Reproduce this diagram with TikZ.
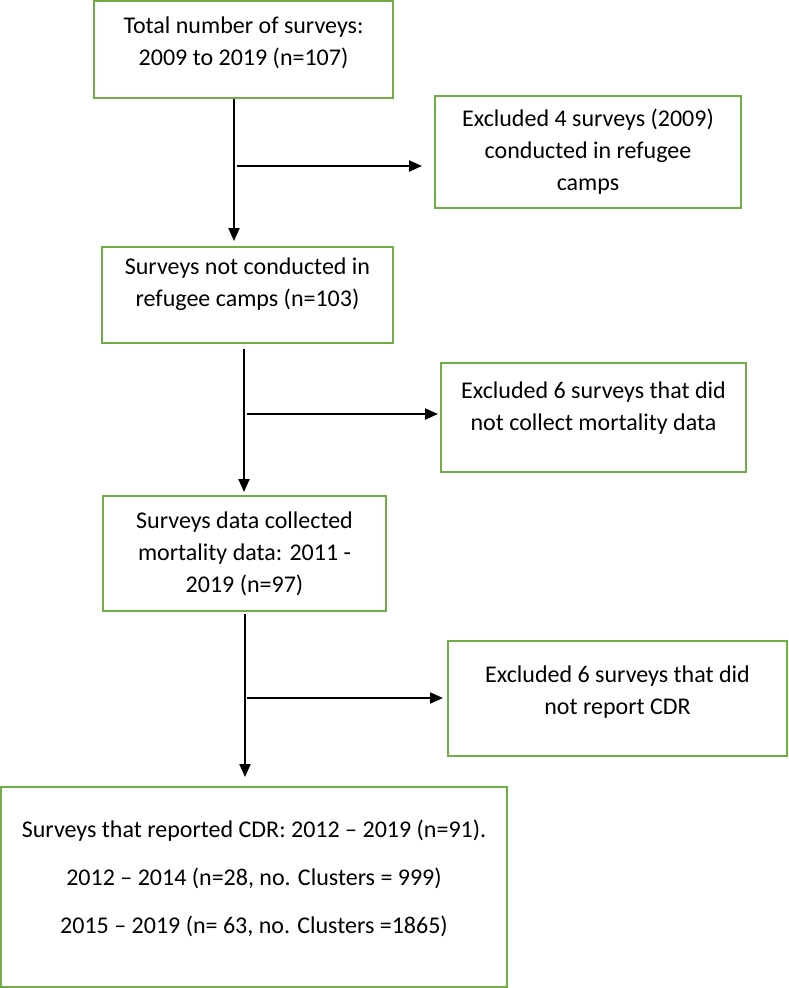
\documentclass[tikz,border=0pt]{standalone}
\usepackage{fontspec}
\setmainfont{Carlito}
\usetikzlibrary{arrows.meta}
\definecolor{boxgreen}{RGB}{112,173,71}

\begin{document}
\begin{tikzpicture}[x=1pt, y=-1pt, >={Triangle[length=13pt,width=11pt]},
  font=\fontsize{24}{32}\selectfont]
  \tikzset{box/.style={draw=boxgreen, line width=2pt, align=center, inner sep=0pt},
    lift/.style={text depth=#1},
    link/.style={line width=2pt, ->}}
  \useasboundingbox (0,0) rectangle (789,988);
  % Main column
  \node[box, lift=17pt, minimum width=299pt, minimum height=97pt] (total) at (243.5,49.5)
    {Total number of surveys:\\2009 to 2019 (n=107)};
  \node[box, lift=26pt, minimum width=291pt, minimum height=96pt] (notcamp) at (247.5,295)
    {Surveys not conducted in\\refugee camps (n=103)};
  \node[box, minimum width=283pt, minimum height=115pt] (mort) at (244.5,553.5)
    {Surveys data collected\\mortality data: 2011 -\\2019 (n=97)};
  \node[box, lift=21pt, minimum width=506pt, minimum height=200pt] (cdr) at (254,887)
    {Surveys that reported CDR: 2012 -- 2019 (n=91).\\[16pt]
     2012 -- 2014 (n=28, no. Clusters = 999)\\[16pt]
     2015 -- 2019 (n= 63, no. Clusters =1865)};
  % Exclusions
  \node[box, minimum width=306pt, minimum height=112pt] (excla) at (588,152)
    {Excluded 4 surveys (2009)\\conducted in refugee\\camps};
  \node[box, lift=22pt, minimum width=305pt, minimum height=109pt] (exclb) at (593.5,417.5)
    {Excluded 6 surveys that did\\not collect mortality data};
  \node[box, lift=16pt, minimum width=339pt, minimum height=115pt] (exclc) at (617.5,698.5)
    {Excluded 6 surveys that did\\not report CDR};
  % Vertical connectors
  \coordinate (va) at ([xshift=-9.5pt]total.south);
  \coordinate (vb) at ([xshift=-3.5pt]notcamp.south);
  \coordinate (vc) at ([xshift=0.5pt]mort.south);
  \draw[link, shorten >=5pt] (va) -- (va |- notcamp.north);
  \draw[link, shorten <=5pt, shorten >=3pt] (vb) -- (vb |- mort.north);
  \draw[link, shorten <=2pt, shorten >=9pt] (vc) -- (vc |- cdr.north);
  % Side connectors
  \coordinate (sa) at (237,166);
  \coordinate (sb) at (247,414);
  \coordinate (sc) at (247,698);
  \draw[link, shorten >=12pt] (sa) -- (sa -| excla.west);
  \draw[link, shorten >=2pt] (sb) -- (sb -| exclb.west);
  \draw[link, shorten >=4pt] (sc) -- (sc -| exclc.west);
\end{tikzpicture}
\end{document}
